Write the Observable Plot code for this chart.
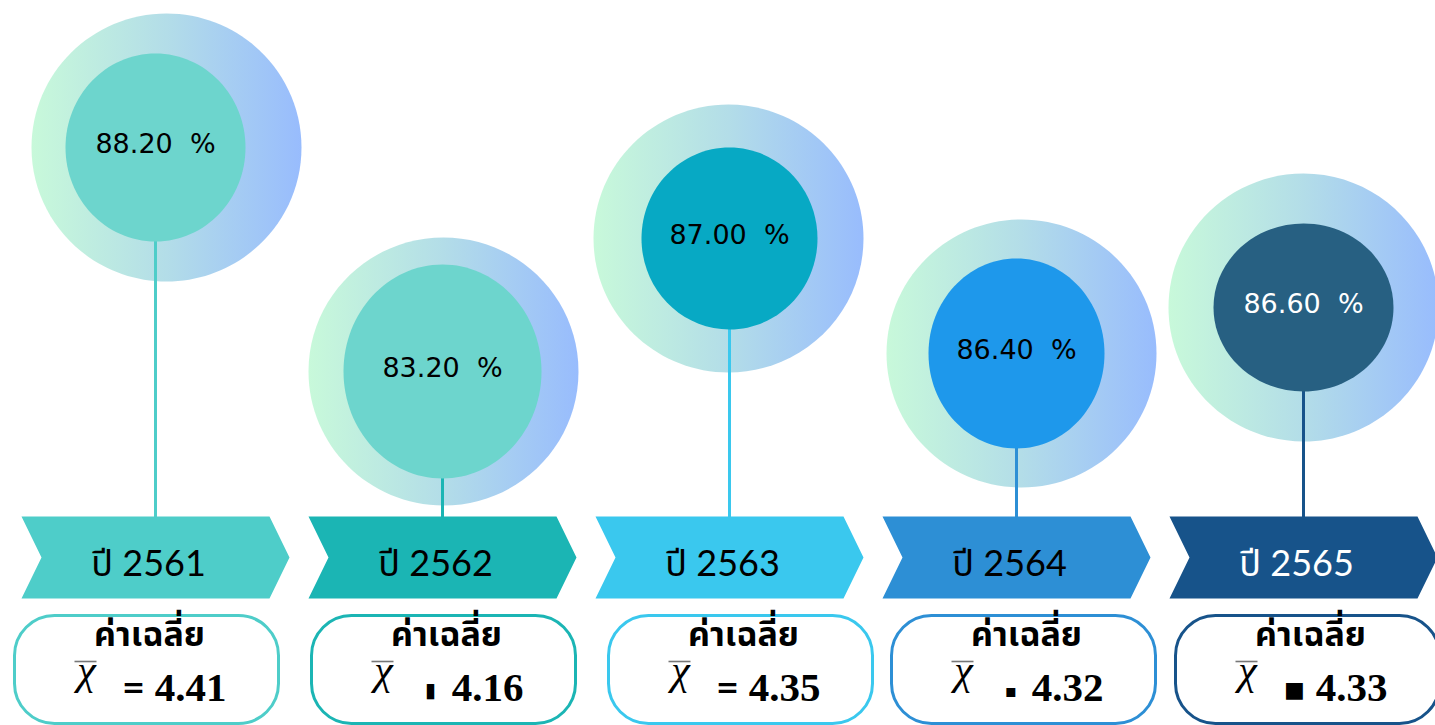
<!DOCTYPE html>
<html>
<head>
<meta charset="utf-8">
<script src="https://cdn.jsdelivr.net/npm/d3@7"></script>
<script src="https://cdn.jsdelivr.net/npm/@observablehq/plot@0.6"></script>
<style>
  html, body { margin: 0; padding: 0; background: #ffffff; }
  #chart { width: 1435px; height: 725px; overflow: hidden; }
</style>
</head>
<body>
<div id="chart"></div>
<script>
// ---- data ----
const years = ["2561", "2562", "2563", "2564", "2565"];
const percents = [88.20, 83.20, 87.00, 86.40, 86.60];
const means = [4.41, 4.16, 4.35, 4.32, 4.33];
const meanSigns = ["=", "▮", "=", "▪", "■"];

// ---- styles ----
const bandColors  = ["#4ecdc9", "#1bb5b4", "#3ac8ee", "#2d8fd5", "#17538a"];
const innerColors = ["#6dd5cd", "#6dd5cd", "#07a9c4", "#1e98eb", "#276082"];
const labelColors = ["#000000", "#000000", "#000000", "#000000", "#ffffff"];
const signSizes = [28, 20, 28, 18, 22];
const innerRx = [90, 99, 88, 88, 90];
const innerRy = [94, 107, 91, 95, 84];
const outerShift = [11, 1, -1, 5, 0];
const boxShift = [-9, 1, 11, 7, 4];

const rows = years.map((y, i) => ({
  year: y, pct: percents[i], mean: means[i], sign: meanSigns[i],
  band: bandColors[i], inner: innerColors[i], label: labelColors[i], i
}));

// ---- custom shapes (relative to the mark's anchor) ----
const chevron = {draw(ctx) {
  ctx.moveTo(-134, -41); ctx.lineTo(114, -41); ctx.lineTo(134, 0);
  ctx.lineTo(114, 41); ctx.lineTo(-134, 41); ctx.lineTo(-114, 0); ctx.closePath();
}};
const pill = {draw(ctx) {
  const w = 132, h = 54, r = 40;
  ctx.moveTo(-w + r, -h); ctx.lineTo(w - r, -h); ctx.arcTo(w, -h, w, -h + r, r);
  ctx.lineTo(w, h - r); ctx.arcTo(w, h, w - r, h, r);
  ctx.lineTo(-w + r, h); ctx.arcTo(-w, h, -w, h - r, r);
  ctx.lineTo(-w, -h + r); ctx.arcTo(-w, -h, -w + r, -h, r); ctx.closePath();
}};
function ellipse(rx, ry) {
  return {draw(ctx) {
    const k = 0.5523, ox = rx * k, oy = ry * k;
    ctx.moveTo(-rx, 0);
    ctx.bezierCurveTo(-rx, -oy, -ox, -ry, 0, -ry);
    ctx.bezierCurveTo(ox, -ry, rx, -oy, rx, 0);
    ctx.bezierCurveTo(rx, oy, ox, ry, 0, ry);
    ctx.bezierCurveTo(-ox, ry, -rx, oy, -rx, 0);
    ctx.closePath();
  }};
}
const outer = ellipse(135, 134);
const overbar = {draw(ctx) { ctx.moveTo(-11, 0); ctx.lineTo(11, 0); }};

const thaiFont = "Lato, 'Noto Sans Thai', 'Noto Sans', sans-serif";
const BASE = 80; // y-value at the top of the year band

const outerMarks = rows.map(d => Plot.dot([d], {
  x: "year", y: "pct", dx: outerShift[d.i], symbol: outer, fill: "url(#ringGrad)", stroke: "none"
}));
const innerMarks = rows.map(d => Plot.dot([d], {
  x: "year", y: "pct", symbol: ellipse(innerRx[d.i], innerRy[d.i]), fill: "inner", stroke: "none"
}));
const boxMarks = rows.flatMap(d => {
  const s = boxShift[d.i];
  return [
    Plot.dot([d], {x: "year", frameAnchor: "bottom", dy: -56, dx: s, symbol: pill, fill: "white", stroke: "band", strokeWidth: 3}),
    Plot.text([d], {x: "year", frameAnchor: "bottom", dy: -80, dx: s + 3, text: () => "ค่าเฉลี่ย", fill: "black",
      fontSize: 34, fontWeight: "bold", fontFamily: thaiFont}),
    Plot.text([d], {x: "year", frameAnchor: "bottom", dy: -42, dx: s - 60, text: () => "χ", fill: "black",
      fontSize: 42, fontStyle: "italic", fontFamily: "'Liberation Serif', serif"}),
    Plot.dot([d], {x: "year", frameAnchor: "bottom", dy: -64, dx: s - 61, symbol: overbar, stroke: "#777", strokeWidth: 1.6}),
    Plot.text([d], {x: "year", frameAnchor: "bottom", dy: -29, dx: s - 13, text: "sign", fill: "black",
      fontSize: signSizes[d.i], fontWeight: "bold", fontFamily: "'DejaVu Sans', sans-serif"}),
    Plot.text([d], {x: "year", frameAnchor: "bottom", dy: -25, dx: s + 44, text: dd => dd.mean.toFixed(2), fill: "black",
      fontSize: 41, fontWeight: "bold", fontFamily: "'Liberation Serif', serif"})
  ];
});

const chart = Plot.plot({
  width: 1435,
  height: 725,
  margin: 0,
  x: {type: "point", domain: years, range: [154, 1303], padding: 0, axis: null},
  y: {type: "linear", domain: [BASE, 83.2, 86.4, 86.6, 87.0, 88.2], range: [540, 371, 353, 307, 238, 147], axis: null},
  style: {background: "transparent", overflow: "visible"},
  marks: [
    ...outerMarks,
    Plot.ruleX(rows, {x: "year", y1: "pct", y2: () => BASE, stroke: "band", strokeWidth: 3}),
    ...innerMarks,
    Plot.dot(rows, {x: "year", frameAnchor: "bottom", dy: -168, symbol: chevron, fill: "band", stroke: "none"}),
    Plot.text(rows, {x: "year", y: "pct", text: d => d.pct.toFixed(2) + "  %", fill: "label",
      fontSize: 27, fontFamily: "'DejaVu Sans', sans-serif", letterSpacing: 0.6, dy: -3}),
    Plot.text(rows, {x: "year", frameAnchor: "bottom", dy: -150, dx: -7, text: d => "ปี " + d.year, fill: "label",
      fontSize: 36, fontFamily: thaiFont}),
    ...boxMarks
  ]
});

chart.insertAdjacentHTML("afterbegin",
  `<defs><linearGradient id="ringGrad" x1="0" y1="0" x2="1" y2="0">
     <stop offset="0" stop-color="#c8f9da"/>
     <stop offset="0.5" stop-color="#b3dde8"/>
     <stop offset="1" stop-color="#98bcfd"/>
   </linearGradient></defs>`);

document.getElementById("chart").appendChild(chart);
</script>
</body>
</html>
